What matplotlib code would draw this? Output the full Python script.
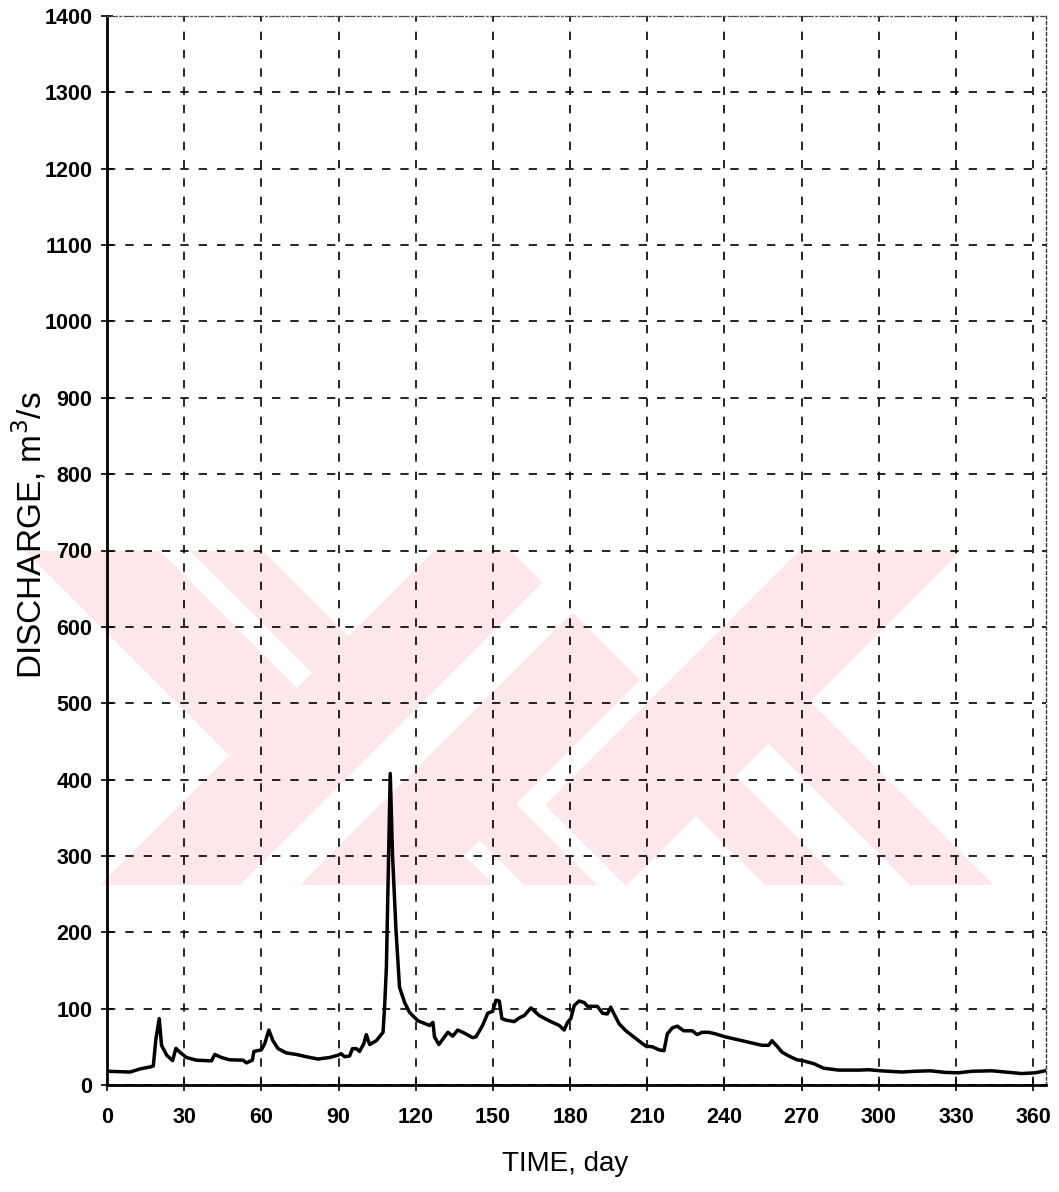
import numpy as np
import matplotlib.pyplot as plt
from matplotlib.patches import Polygon, Rectangle

# daily discharge hydrograph
day = [0, 5, 9, 12.8, 17.3, 18, 19, 20.3, 21.2, 23.2, 25.5, 26.8, 28.3, 30.9,
       34.8, 40.6, 41.9, 44.5, 47.7, 52.9, 54.2, 56.5, 57.1, 60, 61.3, 62.9,
       64.5, 66.5, 69.7, 73.6, 77.5, 82, 86.5, 89.8, 91, 92.4, 94.3, 95.4,
       96.9, 98.2, 99.8, 100.8, 102.1, 104.7, 107.3, 107.9, 108.6, 110.1,
       111, 112.3, 113.7, 115.7, 117.6, 120.9, 125.4, 126.7, 127.3, 129,
       131.2, 132.5, 134.4, 136.3, 138.9, 142.1, 143.4, 146, 148, 149.9,
       151.2, 152.5, 153.5, 155.1, 158.3, 160.3, 162.2, 164.8, 168, 171.9,
       175.8, 177.7, 179, 180.3, 181.6, 183.5, 185.5, 186.8, 190.6, 192.6,
       194.5, 195.8, 197.1, 199.1, 201.7, 205.5, 209.4, 212, 214.6, 216.5,
       217.8, 219.8, 221.7, 224.2, 227.5, 229.4, 231.3, 233.9, 236.5, 240.4,
       243, 246.8, 250.7, 254.6, 257.2, 258.5, 260.4, 262.4, 265, 268.2,
       270.2, 274.7, 278.6, 284.4, 292.2, 296.1, 300.6, 309, 314.2, 320,
       325.8, 331, 336.2, 344, 349.1, 355.6, 360.8, 364.7]
discharge = [18, 17.5, 17, 21, 24, 25, 60, 87, 52, 39, 32, 48, 43, 36,
             32.5, 31.6, 40, 36, 33, 32.5, 29, 32.5, 44, 46, 54, 72,
             58, 47.6, 42, 40, 37, 34, 36, 39, 41, 37, 38, 47.6,
             47.6, 44, 54, 66, 53, 58, 69, 102, 154, 408,
             300, 205, 128, 108, 95, 84, 78, 82, 63, 53,
             63, 69, 64, 72, 68, 62, 63, 78, 94, 96.5,
             111, 110, 87, 85, 83, 88, 91, 101, 91, 84,
             78, 72, 82, 87, 104, 110, 108, 103, 103, 94,
             93, 102, 93, 80, 71, 61, 51, 50, 46, 45,
             67, 75, 77, 71, 71, 66, 69, 69, 67, 63,
             61, 58, 55, 52, 52, 58, 51, 43, 38, 33,
             32, 28, 22, 19.5, 19.5, 20, 18.6, 17, 18, 18.6,
             16.5, 16, 18, 18.6, 17, 15, 16, 18.6]

x_ticks = np.arange(0, 361, 30)
y_ticks = np.arange(0, 1401, 100)

W, H = 1059, 1192
fig = plt.figure(figsize=(W / 100, H / 100), dpi=100)

# faint watermark behind the plot, built from 45 degree stripes
# u = X + Y, v = X - Y in pixel coordinates (Y measured downwards)
bg = fig.add_axes([0, 0, 1, 1], zorder=0)
bg.set_xlim(0, W)
bg.set_ylim(H, 0)
bg.axis('off')
pink = '#fde7eb'
band_top, band_bot = 551, 885
clip = Rectangle((0, band_top), W, band_bot - band_top, transform=bg.transData)

def stripe(u1, u2, v1, v2, color='#fde7eb'):
    pts = [((u + v) / 2, (u - v) / 2) for u, v in
           [(u1, v1), (u2, v1), (u2, v2), (u1, v2)]]
    p = Polygon(pts, closed=True, facecolor=color, edgecolor='none')
    bg.add_patch(p)
    p.set_clip_path(clip)

big = 5000
# left cross: double "\" stroke under a double "/" stroke
stripe(-big, big, -526, -391)
stripe(-big, big, -361, -288)
stripe(985, 1125, -big, -40, 'white')
stripe(985, 1125, -big, -40)
stripe(1125, 1185, -big, -40, 'white')
stripe(1185, 1320, -big, -40)
# right cross
stripe(1350, 1512, -260, big, 'white')
stripe(1350, 1512, -260, big)
stripe(1512, big, -120, -40)
stripe(1512, big, 25, 108)

ax = fig.add_axes([107 / W, 1 - 1085 / H, (1046 - 107) / W, (1085 - 16) / H],
                  zorder=1)
ax.set_facecolor('none')

ax.plot(day, discharge, color='black', lw=2.5, solid_joinstyle='round')

ax.set_xlim(0, 365)
ax.set_ylim(0, 1400)
ax.set_xticks(x_ticks)
ax.set_yticks(y_ticks)
ax.grid(True, color='black', lw=1.2, linestyle=(0, (5, 6)))
ax.set_axisbelow(True)

for lab in ax.get_xticklabels() + ax.get_yticklabels():
    lab.set_fontfamily('Liberation Sans')
    lab.set_fontweight('bold')
    lab.set_fontsize(15.5)
ax.tick_params(axis='y', direction='inout', length=9, width=1.2, pad=6)
ax.tick_params(axis='x', direction='inout', length=8, width=1.2, pad=12)

ax.spines['left'].set_linewidth(2)
ax.spines['bottom'].set_linewidth(2)
ax.spines['top'].set_linestyle((0, (1, 2)))
ax.spines['top'].set_linewidth(1)
ax.spines['top'].set_color('#555555')
ax.spines['right'].set_linestyle((0, (2, 2)))
ax.spines['right'].set_linewidth(1)
ax.spines['right'].set_color('#333333')

fig.text(565 / W, 1 - 1171 / H, 'TIME, day', fontfamily='Liberation Sans',
         fontsize=20, ha='center', va='baseline')
fig.text(42 / W, 1 - 535 / H, 'DISCHARGE, m$^3$/s', fontfamily='Liberation Sans',
         fontsize=24, rotation=90, rotation_mode='anchor',
         ha='center', va='baseline')

fig.savefig('out.png', dpi=100)
